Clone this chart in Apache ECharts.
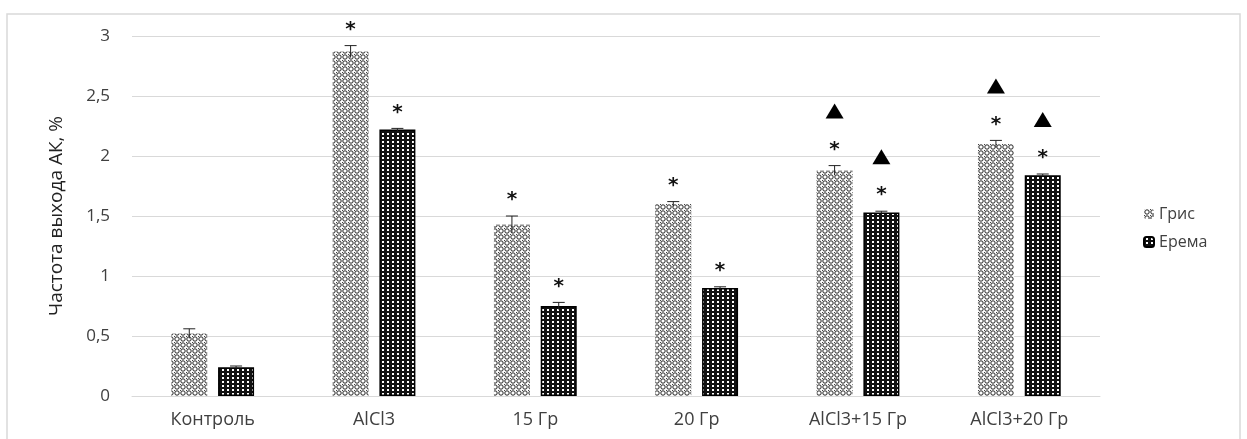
<!DOCTYPE html>
<html>
<head>
<meta charset="utf-8">
<script src="https://cdn.jsdelivr.net/npm/echarts@6/dist/echarts.min.js"></script>
<style>
  html, body { margin: 0; padding: 0; background: #fff; }
  #chart { width: 1247px; height: 439px; }
</style>
</head>
<body>
<div id="chart"></div>
<script>
// data
var categories = ['Контроль', 'AlCl3', '15 Гр', '20 Гр', 'AlCl3+15 Гр', 'AlCl3+20 Гр'];
var seriesNames = ['Грис', 'Ерема'];
var grisValues = [0.52, 2.87, 1.43, 1.60, 1.88, 2.10];
var grisErrors = [0.04, 0.05, 0.07, 0.02, 0.04, 0.03];
var eremaValues = [0.24, 2.22, 0.75, 0.90, 1.53, 1.84];
var eremaErrors = [0.01, 0.01, 0.03, 0.01, 0.01, 0.01];
// significance marks: 1 = shown
var grisStar = [0, 1, 1, 1, 1, 1];
var grisTri = [0, 0, 0, 0, 1, 1];
var eremaStar = [0, 1, 1, 1, 1, 1];
var eremaTri = [0, 0, 0, 0, 1, 1];
var yTicks = [0, 0.5, 1, 1.5, 2, 2.5, 3];

function makeGrisPattern() {
  var c = document.createElement('canvas');
  c.width = 6; c.height = 6;
  var ctx = c.getContext('2d');
  ctx.fillStyle = '#fff';
  ctx.fillRect(0, 0, 6, 6);
  ctx.strokeStyle = '#222';
  ctx.lineWidth = 1;
  ctx.beginPath();
  ctx.arc(3, 3, 2.2, 0, Math.PI * 2);
  ctx.stroke();
  ctx.fillStyle = '#444';
  ctx.fillRect(0, 0, 1, 1);
  return c;
}
function makeEremaPattern() {
  var c = document.createElement('canvas');
  c.width = 5; c.height = 4;
  var ctx = c.getContext('2d');
  ctx.fillStyle = '#111';
  ctx.fillRect(0, 0, 5, 4);
  ctx.fillStyle = '#fff';
  ctx.fillRect(2, 1, 2, 2);
  return c;
}

var barWidth = 36;
var barGap = 0.3;
var half = (barWidth * (1 + barGap)) / 2;

var myChart = echarts.init(document.getElementById('chart'));

function renderMarks(values, errors, stars, tris, dir) {
  return function (params, api) {
    var i = api.value(0);
    var v = values[i], e = errors[i];
    var base = api.coord([i, v]);
    var x = base[0] + dir * half;
    var yTop = api.coord([i, v + e])[1];
    var yBot = api.coord([i, v - e])[1];
    var children = [
      { type: 'line', shape: { x1: x, y1: yTop, x2: x, y2: yBot }, style: { stroke: '#222', lineWidth: 1 } },
      { type: 'line', shape: { x1: x - 6, y1: yTop, x2: x + 6, y2: yTop }, style: { stroke: '#222', lineWidth: 1 } }
    ];
    if (stars[i]) {
      children.push({ type: 'text', style: { text: '*', x: x, y: yTop - 16, align: 'center', verticalAlign: 'middle', font: 'bold 20px "DejaVu Sans"', fill: '#111' } });
    }
    if (tris[i]) {
      var ty = yTop - 54;
      children.push({ type: 'polygon', shape: { points: [[x, ty - 8], [x - 9, ty + 7], [x + 9, ty + 7]] }, style: { fill: '#000' } });
    }
    return { type: 'group', children: children };
  };
}

var idx = categories.map(function (c, i) { return [i]; });

myChart.setOption({
  animation: false,
  textStyle: { fontFamily: '"Open Sans", "Liberation Sans", sans-serif' },
  graphic: [{
    type: 'rect', shape: { x: 7, y: 14, width: 1233, height: 440 },
    style: { fill: 'none', stroke: '#d9d9d9', lineWidth: 1.5 }, silent: true
  }],
  grid: { left: 132, right: 147, top: 36, bottom: 43 },
  legend: {
    orient: 'vertical', left: 1138, top: 201, itemGap: 12,
    itemWidth: 10, itemHeight: 10,
    data: seriesNames,
    textStyle: { fontSize: 16, color: '#404040' }
  },
  xAxis: {
    type: 'category', data: categories,
    axisLine: { lineStyle: { color: '#d9d9d9' } },
    axisTick: { show: false },
    axisLabel: { fontSize: 18, color: '#404040', margin: 15 }
  },
  yAxis: {
    type: 'value', min: 0, max: 3, interval: 0.5,
    name: 'Частота выхода АК, %', nameLocation: 'middle', nameGap: 66,
    nameTextStyle: { fontSize: 19, color: '#222' },
    axisLine: { show: false }, axisTick: { show: false },
    splitLine: { lineStyle: { color: '#d9d9d9' } },
    axisLabel: {
      fontSize: 17, color: '#404040', margin: 22,
      formatter: function (v) { return yTicks.indexOf(v) >= 0 ? String(v).replace('.', ',') : ''; }
    }
  },
  series: [
    {
      name: seriesNames[0], type: 'bar', data: grisValues,
      barWidth: barWidth, barGap: (barGap * 100) + '%',
      itemStyle: { color: { image: makeGrisPattern(), repeat: 'repeat' } }
    },
    {
      name: seriesNames[1], type: 'bar', data: eremaValues,
      barWidth: barWidth,
      itemStyle: { color: { image: makeEremaPattern(), repeat: 'repeat' }, borderColor: '#000', borderWidth: 1.5 }
    },
    { type: 'custom', data: idx, renderItem: renderMarks(grisValues, grisErrors, grisStar, grisTri, -1), z: 5, silent: true },
    { type: 'custom', data: idx, renderItem: renderMarks(eremaValues, eremaErrors, eremaStar, eremaTri, 1), z: 5, silent: true }
  ]
});
</script>
</body>
</html>
